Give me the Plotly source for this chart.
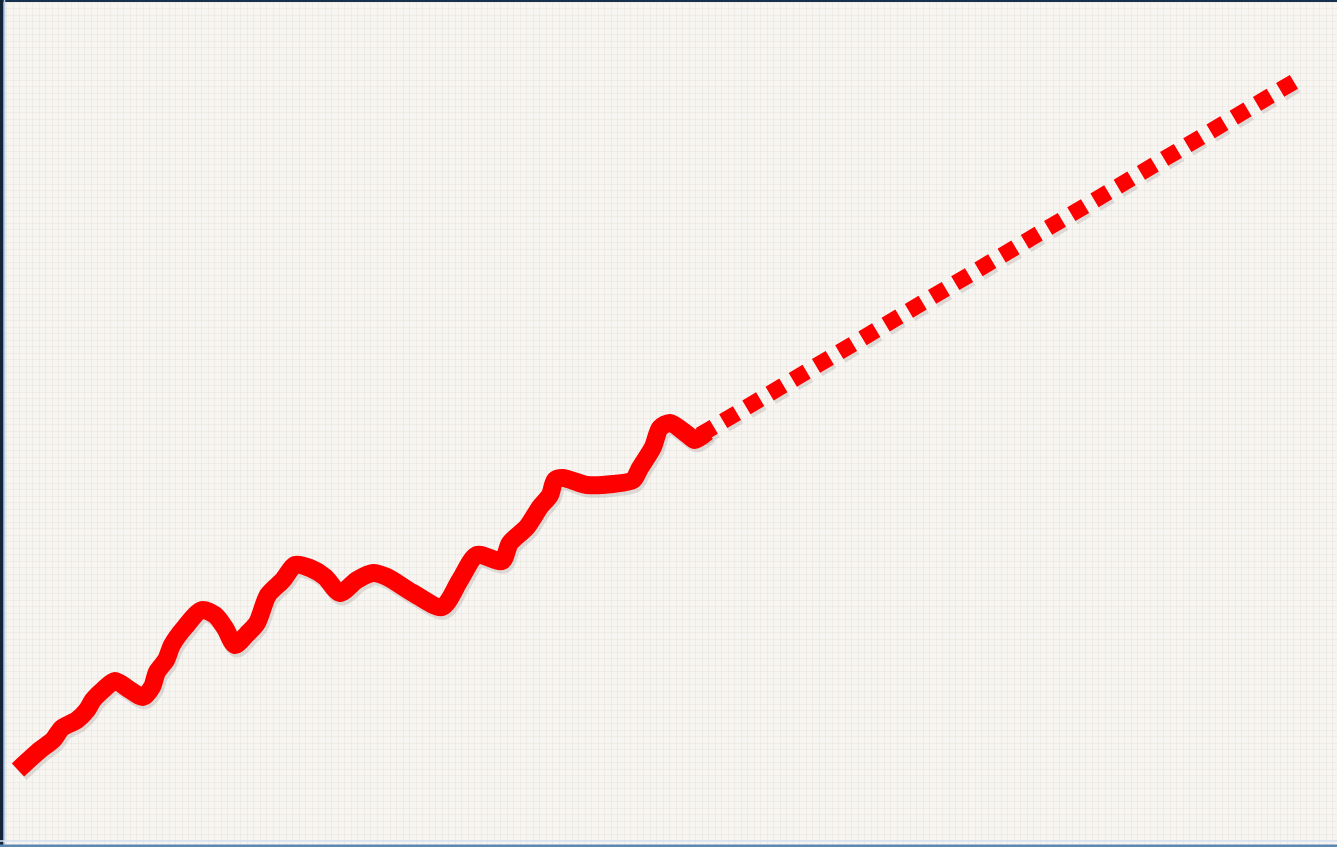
import plotly.graph_objects as go

hist_x = [18, 40, 53, 62, 77, 87, 93, 103, 115, 130, 143, 152, 157, 166, 172, 185, 202, 215, 225, 235,
          247, 257, 268, 283, 295, 310, 325, 340, 357, 373, 387, 413, 442, 460, 477, 502, 510, 527,
          540, 550, 555, 563, 587, 613, 633, 640, 653, 660, 670, 688, 695, 707]
hist_px = [770, 750, 740, 728, 720, 710, 700, 690, 681, 690, 697, 687, 672, 660, 645, 627, 610, 615, 628, 645,
           634, 623, 595, 580, 565, 568, 577, 593, 580, 573, 577, 593, 607, 580, 555, 561, 543, 527,
           507, 495, 480, 478, 485, 484, 480, 468, 447, 428, 423, 435, 440, 432]
hist_y = [847 - v for v in hist_px]

# Projection (dotted)
proj_x = [700, 1302]
proj_y = [847 - 435, 847 - 77]

fig = go.Figure()

# soft drop shadows
fig.add_trace(go.Scatter(x=[v + 2 for v in hist_x], y=[v - 3 for v in hist_y], mode="lines",
                         line=dict(color="rgba(90,70,70,0.15)", width=19, shape="spline", smoothing=0.8),
                         hoverinfo="skip", showlegend=False))
fig.add_trace(go.Scatter(x=[v + 2 for v in proj_x], y=[v - 3 for v in proj_y], mode="lines",
                         line=dict(color="rgba(90,70,70,0.15)", width=17, dash="16px,11px"),
                         hoverinfo="skip", showlegend=False))

fig.add_trace(go.Scatter(x=hist_x, y=hist_y, mode="lines",
                         line=dict(color="#FF0000", width=18, shape="spline", smoothing=0.8),
                         showlegend=False))
fig.add_trace(go.Scatter(x=proj_x, y=proj_y, mode="lines",
                         line=dict(color="#FF0000", width=16, dash="16px,11px"),
                         showlegend=False))

grid = "rgba(228,224,214,0.45)"
fig.update_layout(
    width=1337, height=847,
    margin=dict(l=0, r=0, t=0, b=0),
    paper_bgcolor="#F7F5F1", plot_bgcolor="#F7F5F1",
    xaxis=dict(range=[0, 1337], showgrid=True, gridcolor=grid, gridwidth=1, dtick=6.5,
               zeroline=False, showticklabels=False, ticks="", fixedrange=True),
    yaxis=dict(range=[0, 847], showgrid=True, gridcolor=grid, gridwidth=1, dtick=6.5,
               zeroline=False, showticklabels=False, ticks="", fixedrange=True),
    shapes=[
        dict(type="line", xref="paper", yref="paper", x0=0, x1=1, y0=1, y1=1,
             line=dict(color="#17304d", width=4)),
        dict(type="line", xref="paper", yref="paper", x0=0, x1=0, y0=0, y1=1,
             line=dict(color="#14253a", width=7)),
        dict(type="line", xref="x", yref="paper", x0=4.5, x1=4.5, y0=0, y1=1,
             line=dict(color="#b4cbe8", width=1.5)),
        dict(type="line", xref="paper", yref="paper", x0=0, x1=1, y0=0, y1=0,
             line=dict(color="#5b88b0", width=5)),
        dict(type="line", xref="paper", yref="y", x0=0, x1=1, y0=6, y1=6,
             line=dict(color="#d3e1ef", width=1.5)),
    ],
)

fig.write_html("out.html", config={"displayModeBar": False},
               post_script="document.body.style.margin='0';document.body.style.overflow='hidden';")
